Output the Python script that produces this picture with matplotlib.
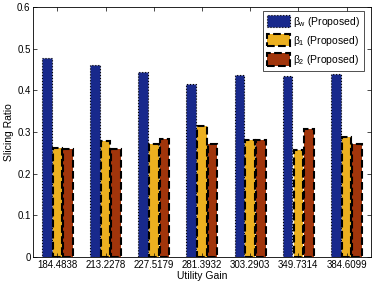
import numpy as np
import matplotlib
matplotlib.use('Agg')
import matplotlib.pyplot as plt

plt.rcParams['font.family'] = ['Liberation Sans', 'DejaVu Sans']
plt.rcParams['mathtext.fontset'] = 'custom'
plt.rcParams['mathtext.rm'] = 'Liberation Sans'
plt.rcParams['mathtext.it'] = 'Liberation Sans'

gains = ['184.4838', '213.2278', '227.5179', '281.3932', '303.2903', '349.7314', '384.6099']
beta_w = [0.477, 0.461, 0.443, 0.414, 0.436, 0.433, 0.439]
beta_1 = [0.262, 0.278, 0.271, 0.313, 0.281, 0.257, 0.287]
beta_2 = [0.259, 0.259, 0.284, 0.272, 0.280, 0.308, 0.272]

x = np.arange(1, len(gains) + 1)
w = 0.2
off = 0.222

fig = plt.figure(figsize=(3.74, 2.87), dpi=100)
ax = fig.add_axes([0.089, 0.105, 0.902, 0.871])

ax.bar(x - off, beta_w, w, color='#18298c', edgecolor='black', linestyle=':', linewidth=0.8,
       label=r'$\beta_w$ (Proposed)')
ax.bar(x, beta_1, w, color='#ecb020', edgecolor='black', linestyle='--', linewidth=1.5,
       label=r'$\beta_1$ (Proposed)')
ax.bar(x + off, beta_2, w, color='#a1350b', edgecolor='black', linestyle='--', linewidth=1.5,
       label=r'$\beta_2$ (Proposed)')

ax.set_xlim(0.5, 7.5)
ax.set_ylim(0, 0.6)
ax.set_xticks(x)
ax.set_xticklabels(gains)
ax.set_yticks(np.arange(0, 0.61, 0.1))
ax.set_yticklabels(['0', '0.1', '0.2', '0.3', '0.4', '0.5', '0.6'])
ax.tick_params(direction='in', top=True, right=True, labelsize=7, length=3, width=0.5, pad=2)
for s in ax.spines.values():
    s.set_linewidth(0.6)
ax.set_xlabel('Utility Gain', fontsize=7.5, labelpad=1)
ax.set_ylabel('Slicing Ratio', fontsize=7.5, labelpad=2)

leg = ax.legend(loc='upper right', bbox_to_anchor=(0.98, 0.984), fontsize=7.5,
                handlelength=2.2, handleheight=1.4, borderpad=0.35, labelspacing=0.5,
                handletextpad=0.3, fancybox=False, borderaxespad=0)
leg.get_frame().set_edgecolor('black')
leg.get_frame().set_linewidth(0.6)

fig.savefig('out.png', dpi=100)
